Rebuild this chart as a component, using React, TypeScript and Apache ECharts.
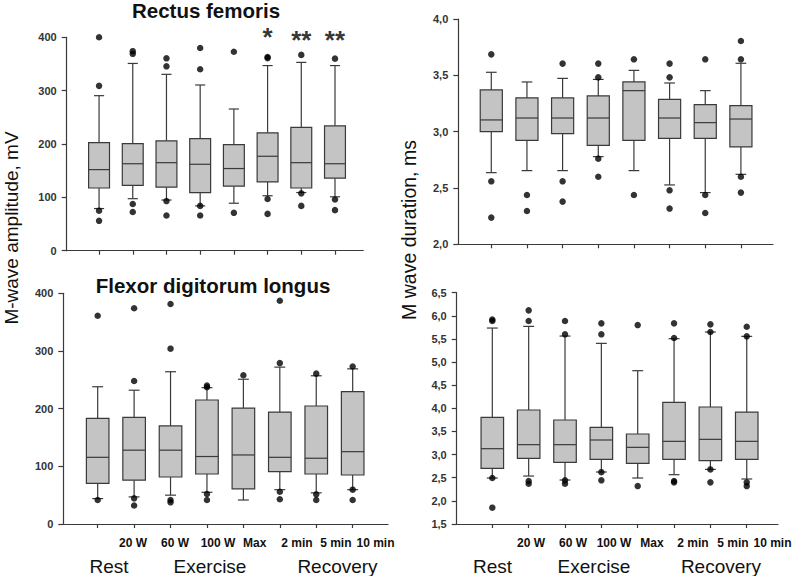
import React, { useEffect, useRef } from 'react';
import * as echarts from 'echarts';

// ---------- data ----------
const categories = ['Rest', '20 W', '60 W', '100 W', 'Max', '2 min', '5 min', '10 min'];
const groupLabels = ['Rest', 'Exercise', 'Recovery'];

// Rectus femoris, M-wave amplitude (mV)
const rfAmpLow = [79, 97.5, 95, 84, 89, 103, 109, 101];
const rfAmpQ1 = [117.5, 122.5, 119, 109, 121, 129, 117.5, 136];
const rfAmpMed = [152, 163, 165, 162, 154, 177, 165, 163];
const rfAmpQ3 = [202.5, 200.6, 206, 210, 199, 221, 231, 234];
const rfAmpHigh = [290.6, 351, 330.6, 310.6, 265.6, 347, 353, 347];
const rfAmpOut = [
  [400, 309, 75, 56],
  [374, 369, 87.5, 72.5],
  [360.6, 345.6, 93, 66],
  [380, 340, 84, 66],
  [373, 71],
  [363, 361, 97, 69],
  [367, 107.5, 84],
  [360, 96, 76],
];
const rfSignificance = ['', '', '', '', '', '*', '**', '**'];

// Flexor digitorum longus, M-wave amplitude (mV)
const fdlAmpLow = [44, 47, 50, 55, 41.6, 59.5, 54, 59.5];
const fdlAmpQ1 = [70.5, 76, 81.5, 86.7, 61, 90.7, 86.7, 85];
const fdlAmpMed = [115.6, 128, 128, 117, 119.7, 115.6, 114, 125.4];
const fdlAmpQ3 = [183, 185, 170, 215, 201, 194, 204.6, 229.5];
const fdlAmpHigh = [238, 232, 264, 236.4, 251, 272, 257, 269];
const fdlAmpOut = [
  [361, 41.6],
  [374, 248, 44.5, 32],
  [381.5, 304, 41.6, 37.6],
  [240, 237, 52, 41.6],
  [258],
  [387, 279, 56, 43],
  [260.7, 51.4, 41.6],
  [273, 59.5, 41.6],
];

// Rectus femoris, M-wave duration (ms)
const rfDurLow = [2.636, 2.654, 2.654, 2.778, 2.654, 2.527, 2.459, 2.621];
const rfDurQ1 = [3.0, 2.923, 2.982, 2.879, 2.923, 2.941, 2.941, 2.864];
const rfDurMed = [3.104, 3.121, 3.121, 3.121, 3.364, 3.121, 3.08, 3.112];
const rfDurQ3 = [3.37, 3.3, 3.3, 3.317, 3.441, 3.287, 3.24, 3.231];
const rfDurHigh = [3.527, 3.441, 3.473, 3.464, 3.544, 3.432, 3.364, 3.607];
const rfDurOut = [
  [3.686, 2.559, 2.237],
  [2.438, 2.296],
  [3.604, 2.559, 2.379],
  [3.604, 3.482, 2.76, 2.6],
  [3.642, 2.438],
  [3.604, 3.482, 2.479, 2.317],
  [3.642, 2.438, 2.278],
  [3.805, 3.642, 2.6, 2.459],
];

// Flexor digitorum longus, M-wave duration (ms)
const fdlDurLow = [2.494, 2.537, 2.451, 2.624, 2.494, 2.566, 2.68, 2.473];
const fdlDurQ1 = [2.703, 2.919, 2.833, 2.898, 2.811, 2.898, 2.869, 2.898];
const fdlDurMed = [3.128, 3.215, 3.215, 3.316, 3.157, 3.287, 3.33, 3.287];
const fdlDurQ3 = [3.805, 3.964, 3.748, 3.589, 3.445, 4.13, 4.029, 3.92];
const fdlDurHigh = [5.736, 5.772, 5.563, 5.405, 4.814, 5.506, 5.65, 5.556];
const fdlDurOut = [
  [5.92, 5.89, 2.494, 1.853],
  [6.118, 5.888, 2.43, 2.37],
  [5.888, 5.6, 2.444, 2.37],
  [5.837, 5.6, 2.62, 2.444],
  [5.8, 2.32],
  [5.837, 5.52, 2.43, 2.4],
  [5.816, 5.65, 2.68, 2.4],
  [5.765, 5.556, 2.4, 2.32],
];

// ---------- layout ----------
const FONT = 'Liberation Sans, Arial, Helvetica, sans-serif';
const INK = '#3a3a3a';

const panels = [
  {
    grid: { left: 66.7, top: 37.3, width: 296.6, height: 213.4 },
    x: [0.04, 8.84], y: [0, 400], step: 100, dec: 0,
    box: [rfAmpLow, rfAmpQ1, rfAmpMed, rfAmpQ3, rfAmpHigh], out: rfAmpOut,
  },
  {
    grid: { left: 63.3, top: 293.3, width: 324.7, height: 230.7 },
    x: [0.056, 8.97], y: [0, 400], step: 100, dec: 0,
    box: [fdlAmpLow, fdlAmpQ1, fdlAmpMed, fdlAmpQ3, fdlAmpHigh], out: fdlAmpOut,
  },
  {
    grid: { left: 458.3, top: 19, width: 314.7, height: 225.3 },
    x: [0.075, 8.9], y: [2, 4], step: 0.5, dec: 1,
    box: [rfDurLow, rfDurQ1, rfDurMed, rfDurQ3, rfDurHigh], out: rfDurOut,
  },
  {
    grid: { left: 456.7, top: 292.7, width: 321.3, height: 231.3 },
    x: [0.02, 8.86], y: [1.5, 6.5], step: 0.5, dec: 1,
    box: [fdlDurLow, fdlDurQ1, fdlDurMed, fdlDurQ3, fdlDurHigh], out: fdlDurOut,
  },
];

const smallLabelX = [
  [133, 175, 218, 254.7, 297, 335.8, 375.5],
  [531, 573, 614, 652, 693, 733, 772.5],
];
const groupLabelX = [
  [109, 210, 337.5],
  [492.5, 594, 721],
];

const renderBox = (params: any, api: any) => {
  const x = api.value(0);
  const pLo = api.coord([x, api.value(1)]);
  const pQ1 = api.coord([x, api.value(2)]);
  const pMed = api.coord([x, api.value(3)]);
  const pQ3 = api.coord([x, api.value(4)]);
  const pHi = api.coord([x, api.value(5)]);
  const band = api.size([1, 0])[0];
  const bw = band * 0.62;
  const cw = band * 0.3;
  const cx = pLo[0];
  const ls = { stroke: INK, lineWidth: 1.2 };
  return {
    type: 'group',
    children: [
      { type: 'line', shape: { x1: cx, y1: pHi[1], x2: cx, y2: pQ3[1] }, style: ls },
      { type: 'line', shape: { x1: cx, y1: pQ1[1], x2: cx, y2: pLo[1] }, style: ls },
      { type: 'line', shape: { x1: cx - cw / 2, y1: pHi[1], x2: cx + cw / 2, y2: pHi[1] }, style: ls },
      { type: 'line', shape: { x1: cx - cw / 2, y1: pLo[1], x2: cx + cw / 2, y2: pLo[1] }, style: ls },
      {
        type: 'rect',
        shape: { x: cx - bw / 2, y: pQ3[1], width: bw, height: pQ1[1] - pQ3[1] },
        style: { fill: '#c4c4c4', stroke: INK, lineWidth: 1.2 },
      },
      { type: 'line', shape: { x1: cx - bw / 2, y1: pMed[1], x2: cx + bw / 2, y2: pMed[1] }, style: ls },
    ],
  };
};

function buildOption() {
  const grid: any[] = [];
  const xAxis: any[] = [];
  const yAxis: any[] = [];
  const series: any[] = [];
  const ticks = categories.map((_, i) => i + 1);

  panels.forEach((p, k) => {
    grid.push({ ...p.grid });
    xAxis.push({
      type: 'value', gridIndex: k, min: p.x[0], max: p.x[1],
      axisLine: { show: true, onZero: false, lineStyle: { color: INK, width: 1.2 } },
      axisTick: { show: true, length: 4, customValues: ticks, lineStyle: { color: INK, width: 1.2 } },
      axisLabel: { show: false },
      splitLine: { show: false },
    });
    yAxis.push({
      type: 'value', gridIndex: k, min: p.y[0], max: p.y[1], interval: p.step,
      axisLine: { show: true, onZero: false, lineStyle: { color: INK, width: 1.2 } },
      axisTick: { show: true, length: 5, lineStyle: { color: INK, width: 1.2 } },
      axisLabel: {
        margin: 10, color: '#333', fontSize: 11, fontWeight: 'bold', fontFamily: FONT,
        formatter: (v: number) => v.toFixed(p.dec).replace('.', ','),
      },
      splitLine: { show: false },
    });
    const [lo, q1, md, q3, hi] = p.box;
    series.push({
      type: 'custom', xAxisIndex: k, yAxisIndex: k,
      renderItem: renderBox,
      encode: { x: 0, y: [1, 2, 3, 4, 5] },
      data: categories.map((_, i) => [i + 1, lo[i], q1[i], md[i], q3[i], hi[i]]),
      z: 2,
    });
    const pts: number[][] = [];
    p.out.forEach((arr, i) => arr.forEach((v) => pts.push([i + 1, v])));
    series.push({
      type: 'scatter', xAxisIndex: k, yAxisIndex: k,
      symbol: 'circle', symbolSize: 6.5,
      itemStyle: { color: '#000' },
      data: pts, z: 3, clip: false,
    });
  });

  // significance marks above Rectus femoris amplitude boxes
  const sigData: any[] = [];
  rfSignificance.forEach((s, i) => {
    if (s) sigData.push({ value: [i + 1, s.length === 1 ? 401 : 395], label: { formatter: s } });
  });
  series.push({
    type: 'scatter', xAxisIndex: 0, yAxisIndex: 0, clip: false,
    symbol: 'circle', symbolSize: 1, itemStyle: { color: 'rgba(0,0,0,0)' },
    label: {
      show: true, position: 'inside', color: '#000', fontSize: 26,
      fontWeight: 'bold', fontFamily: FONT,
    },
    data: sigData, z: 4,
  });

  const graphic: any[] = [];
  const txt = (text: string, x: number, y: number, size: number, weight: string, extra: any = {}) => ({
    type: 'text', x, y, ...extra,
    style: {
      text, fontSize: size, fontWeight: weight, fontFamily: FONT, fill: '#111',
      textAlign: 'center', textVerticalAlign: 'middle',
    },
  });
  graphic.push(txt('Rectus femoris', 206, 10, 20.5, 'bold'));
  graphic.push(txt('Flexor digitorum longus', 213, 285, 20.5, 'bold'));
  graphic.push(txt('M-wave amplitude, mV', 11, 228, 19, 'normal', { rotation: Math.PI / 2 }));
  graphic.push(txt('M wave duration, ms', 409, 230, 19.5, 'normal', { rotation: Math.PI / 2 }));
  smallLabelX.forEach((xs) => {
    xs.forEach((x, i) => graphic.push(txt(categories[i + 1], x, 543, 12, 'bold')));
  });
  groupLabelX.forEach((xs) => {
    xs.forEach((x, i) => graphic.push(txt(groupLabels[i], x, 566, 19, 'normal')));
  });

  return {
    animation: false,
    backgroundColor: '#ffffff',
    grid, xAxis, yAxis, series, graphic,
  };
}

export default function App() {
  const ref = useRef<HTMLDivElement>(null);
  useEffect(() => {
    if (!ref.current) return;
    const chart = echarts.init(ref.current, null, { renderer: 'svg' });
    chart.setOption(buildOption() as any);
    return () => chart.dispose();
  }, []);
  return (
    <div
      ref={ref}
      style={{ position: 'fixed', left: 0, top: 0, width: 794, height: 576, background: '#fff' }}
    />
  );
}
